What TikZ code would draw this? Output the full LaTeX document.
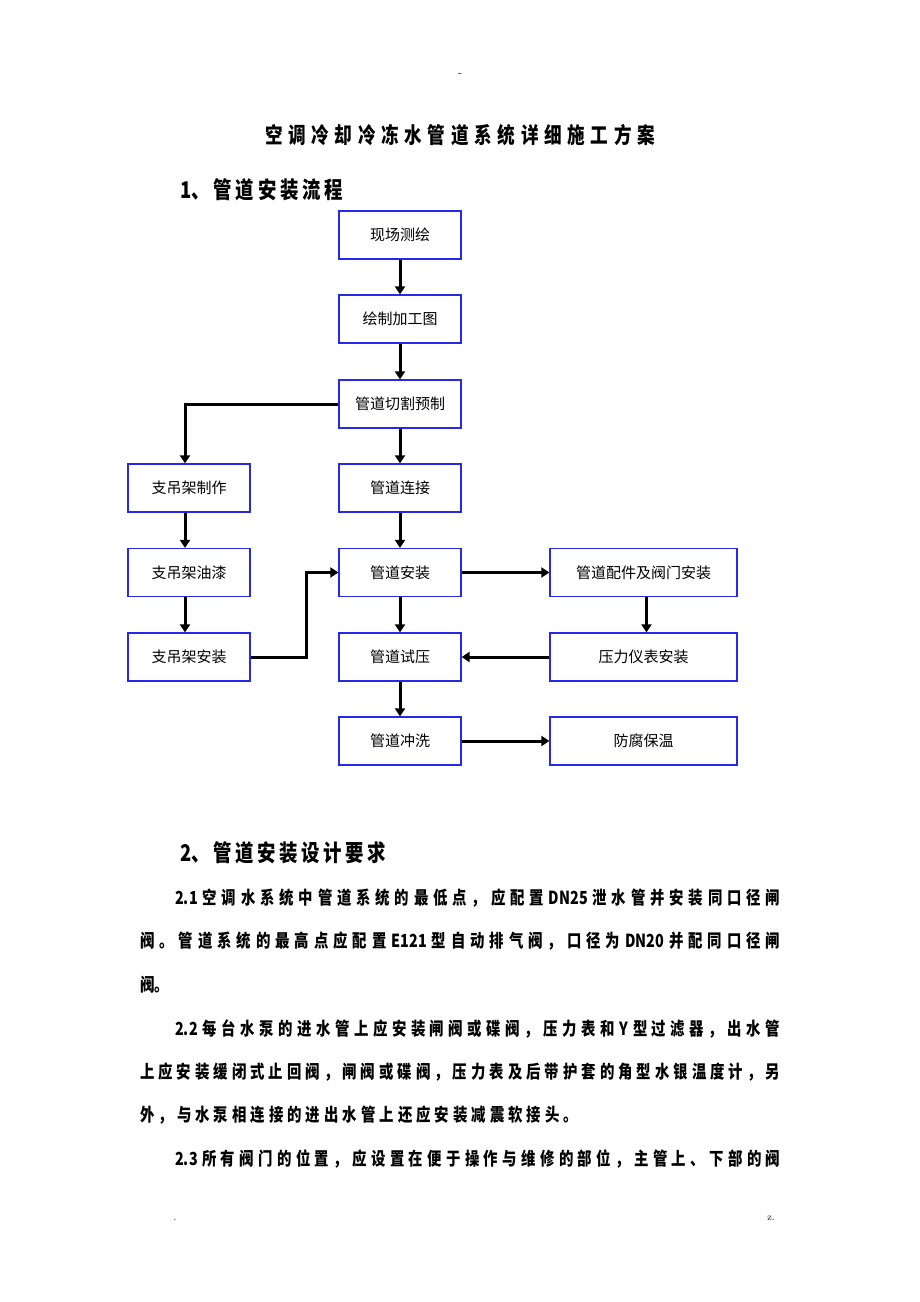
\documentclass[tikz,border=0pt]{standalone}
\usepackage{fontspec}
\usetikzlibrary{arrows.meta}
\newfontfamily\flowfont{Noto Sans CJK SC}
\newfontfamily\bodyfnt{Noto Sans CJK SC}[FakeStretch=0.8]
\definecolor{boxblue}{RGB}{40,40,235}
% spread the items of a line over a given width
\makeatletter
\newcommand\spreadline[2]{\makebox[#1][s]{\hskip0pt plus -1fil\relax\@tfor\sp@item:=#2\do{\hfil\sp@item}}}
\makeatother
\begin{document}
\begin{tikzpicture}[x=1pt,y=-1pt,
    stepbox/.style={draw=boxblue,line width=1.3pt,inner sep=0pt,minimum width=122pt,minimum height=48pt,font=\flowfont\fontsize{15}{18}\selectfont},
    widebox/.style={stepbox,minimum width=187pt},
    flow/.style={line width=3pt,-{Triangle[length=8pt,width=10pt]}},
    head/.style={inner sep=0pt,anchor=west,font=\bodyfnt\bfseries\fontsize{23}{26}\selectfont},
    body/.style={inner sep=0pt,anchor=west,font=\bodyfnt\bfseries\fontsize{18}{21}\selectfont}]
\useasboundingbox (0,0) rectangle (920,1302);
\fill[white] (0,0) rectangle (920,1302);
% page marks
\node[inner sep=0pt,font=\fontsize{12}{12}\selectfont] (dash) at (460,75) {-};
\node[inner sep=0pt,font=\fontsize{10}{12}\selectfont] (dotl) at (175,1220) {.};
\node[inner sep=0pt,font=\fontsize{10}{12}\selectfont] (dotr) at (771,1218) {z.};
% headings
\node[inner sep=0pt,font=\bodyfnt\bfseries\fontsize{22}{25}\selectfont] (title) at (460,135) {\spreadline{390pt}{空调冷却冷冻水管道系统详细施工方案}};
\node[head] (head1) at (180,190) {\spreadline{163pt}{{1、}管道安装流程}};
\node[head] (head2) at (180,853) {\spreadline{206pt}{{2、}管道安装设计要求}};
% flow chart
\node[stepbox] (survey) at (400,235) {现场测绘};
\node[stepbox] (drawing) at (400,319) {绘制加工图};
\node[stepbox] (cut) at (400,404) {管道切割预制};
\node[stepbox] (joint) at (400,488) {管道连接};
\node[stepbox] (install) at (400,572.5) {管道安装};
\node[stepbox] (test) at (400,657) {管道试压};
\node[stepbox] (flush) at (400,741) {管道冲洗};
\node[stepbox] (make) at (189,488) {支吊架制作};
\node[stepbox] (paint) at (189,572.5) {支吊架油漆};
\node[stepbox] (mount) at (189,657) {支吊架安装};
\node[widebox] (fitting) at (643.5,572.5) {管道配件及阀门安装};
\node[widebox] (gauge) at (643.5,657) {压力仪表安装};
\node[widebox] (anti) at (643.5,741) {防腐保温};
\draw[flow] (survey) -- (drawing);
\draw[flow] (drawing) -- (cut);
\draw[flow] (cut) -- (joint);
\draw[flow] (joint) -- (install);
\draw[flow] (install) -- (test);
\draw[flow] (test) -- (flush);
\draw[flow] (cut.west) -| ([xshift=-4pt]make.north);
\draw[flow] ([xshift=-4pt]make.south) -- ([xshift=-4pt]paint.north);
\draw[flow] ([xshift=-4pt]paint.south) -- ([xshift=-4pt]mount.north);
\draw[flow] (mount.east) -- ++(56,0) |- (install.west);
\draw[flow] (install) -- (fitting);
\draw[flow] ([xshift=3pt]fitting.south) -- ([xshift=3pt]gauge.north);
\draw[flow] (gauge) -- (test);
\draw[flow] (flush) -- (anti);
% design requirements
\node[body] (l1) at (175,898) {\spreadline{605pt}{{2.1}空调水系统中管道系统的最低点，应配置{DN25}泄水管并安装同口径闸}};
\node[body] (l2) at (140,941) {\spreadline{640pt}{阀。管道系统的最高点应配置{E121}型自动排气阀，口径为{DN20}并配同口径闸}};
\node[body] (l3) at (140,985) {阀。};
\node[body] (l4) at (175,1029) {\spreadline{605pt}{{2.2}每台水泵的进水管上应安装闸阀或碟阀，压力表和{Y}型过滤器，出水管}};
\node[body] (l5) at (140,1072) {\spreadline{640pt}{上应安装缓闭式止回阀，闸阀或碟阀，压力表及后带护套的角型水银温度计，另}};
\node[body] (l6) at (140,1115) {\spreadline{438pt}{外，与水泵相连接的进出水管上还应安装减震软接头。}};
\node[body] (l7) at (175,1159) {\spreadline{605pt}{{2.3}所有阀门的位置，应设置在便于操作与维修的部位，主管上、下部的阀}};
\end{tikzpicture}
\end{document}
